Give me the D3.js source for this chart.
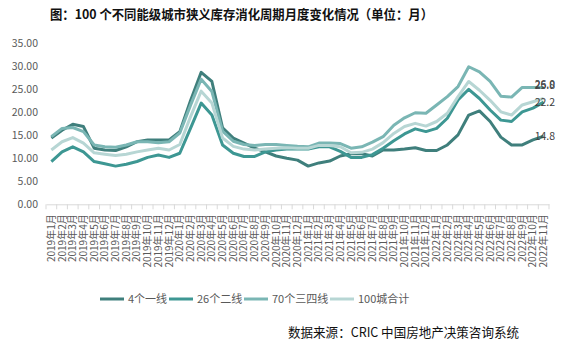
<!DOCTYPE html>
<html lang="zh">
<head>
<meta charset="UTF-8">
<script src="https://d3js.org/d3.v7.min.js"></script>
<style>
  body { margin: 0; background: #fff; }
  svg text { font-family: "Noto Sans CJK SC", sans-serif; }
</style>
</head>
<body>
<div id="chart"></div>
<script>
// months 2019-1 .. 2022-11
const months = [];
for (let yr = 2019; yr <= 2022; yr++) {
  for (let m = 1; m <= 12; m++) {
    if (yr === 2022 && m > 11) break;
    months.push(yr + "年" + m + "月");
  }
}

const tier1 = [14.4, 16.1, 17.4, 16.9, 12.2, 11.8, 11.7, 12.5, 13.6, 14.0, 14.0, 14.0,
  15.8, 22.5, 28.7, 26.7, 16.6, 14.4, 13.3, 12.2, 11.4, 10.5, 10.0, 9.6,
  8.3, 9.0, 9.4, 10.5, 11.0, 11.0, 10.5, 11.8, 11.8, 12.0, 12.3, 11.7,
  11.7, 12.9, 15.1, 19.4, 20.3, 18.0, 14.6, 12.9, 12.9, 14.0, 14.8];
const tier2 = [9.3, 11.4, 12.5, 11.4, 9.3, 8.8, 8.3, 8.7, 9.3, 10.2, 10.7, 10.2,
  11.1, 16.5, 22.0, 19.4, 12.9, 11.1, 10.4, 10.4, 11.4, 11.8, 12.0, 12.0,
  12.0, 12.5, 12.5, 11.5, 10.2, 10.2, 10.8, 12.2, 13.8, 15.3, 16.4, 15.8,
  16.5, 18.7, 22.7, 25.0, 23.0, 20.5, 18.3, 18.0, 20.1, 20.9, 22.2];
const tier34 = [14.7, 16.5, 16.7, 15.8, 12.9, 12.5, 12.4, 12.9, 13.6, 13.6, 13.4, 13.6,
  15.5, 21.5, 27.2, 24.5, 15.9, 13.7, 13.0, 12.8, 13.0, 13.0, 12.8, 12.6,
  12.5, 13.3, 13.3, 13.2, 12.2, 12.5, 13.5, 14.7, 17.2, 18.8, 19.9, 19.8,
  21.6, 23.4, 25.6, 29.9, 28.8, 26.7, 23.5, 23.3, 25.4, 25.4, 25.4];
const total100 = [11.8, 13.6, 14.5, 13.3, 11.2, 10.9, 10.6, 10.9, 11.4, 11.8, 12.2, 11.8,
  13.0, 19.0, 24.6, 22.0, 14.4, 12.6, 12.0, 11.8, 12.0, 12.2, 12.3, 12.2,
  12.2, 12.8, 12.8, 12.5, 11.2, 11.3, 12.0, 13.4, 15.4, 16.9, 17.6, 17.0,
  18.0, 19.8, 23.4, 26.7, 24.8, 22.6, 20.1, 19.4, 21.6, 22.3, 23.0];

const seriesNames = ["4个一线", "26个二线", "70个三四线", "100城合计"];
const seriesColors = ["#3f7f7c", "#3d9793", "#7ab6b4", "#b7d6d4"];
const seriesValues = [tier1, tier2, tier34, total100];
const endLabels = ["14.8", "22.2", "26.0", "25.8"];
const yTicks = [0, 5, 10, 15, 20, 25, 30, 35];

const W = 579, H = 351;
const svg = d3.select("#chart").append("svg")
  .attr("width", W).attr("height", H);

const x = d3.scaleBand().domain(months).range([46, 549]);
const y = d3.scaleLinear().domain([0, 35]).range([204.3, 43.3]);

// title
svg.append("text")
  .attr("x", 50).attr("y", 19)
  .attr("font-size", 13).attr("font-weight", "bold")
  .attr("fill", "#111")
  .attr("textLength", 383).attr("lengthAdjust", "spacingAndGlyphs")
  .text("图：100 个不同能级城市狭义库存消化周期月度变化情况（单位：月）");

// y axis
const yAxis = svg.append("g")
  .attr("transform", "translate(38,0)")
  .call(d3.axisLeft(y).tickValues(yTicks).tickSize(0).tickPadding(0).tickFormat(d3.format(".2f")));
yAxis.select(".domain").remove();
yAxis.selectAll("text")
  .attr("font-family", "Liberation Mono, monospace")
  .attr("font-size", 10.5).attr("fill", "#595959");

// x axis
const xAxis = svg.append("g")
  .attr("transform", "translate(0," + y(0) + ")")
  .call(d3.axisBottom(x).tickSize(0));
xAxis.select(".domain").attr("stroke", "#d9d9d9");
xAxis.selectAll("text")
  .attr("transform", "rotate(-90)")
  .attr("text-anchor", "end")
  .attr("x", -10).attr("y", 0).attr("dy", "0.35em")
  .attr("font-family", "Liberation Mono, Noto Sans CJK SC, monospace")
  .attr("font-size", 10).attr("fill", "#595959");
// boundary ticks
xAxis.selectAll(".bnd")
  .data(months.concat(["end"]))
  .enter().append("line")
  .attr("x1", d => d === "end" ? x.range()[1] : x(d))
  .attr("x2", d => d === "end" ? x.range()[1] : x(d))
  .attr("y1", 0).attr("y2", 5)
  .attr("stroke", "#d9d9d9");

// lines
const line = d3.line()
  .x((d, i) => x(months[i]) + x.bandwidth() / 2)
  .y(d => y(d));

svg.selectAll(".series")
  .data(seriesValues)
  .enter().append("path")
  .attr("d", d => line(d))
  .attr("fill", "none")
  .attr("stroke", (d, i) => seriesColors[i])
  .attr("stroke-width", 3)
  .attr("stroke-linejoin", "round");

// end labels
const lastX = x(months[months.length - 1]) + x.bandwidth() / 2;
svg.selectAll(".endlbl")
  .data(endLabels)
  .enter().append("text")
  .attr("x", lastX - 9)
  .attr("y", d => y(+d))
  .attr("dy", "0.35em")
  .attr("font-family", "Liberation Mono, monospace")
  .attr("font-size", 10.5).attr("fill", "#404040")
  .text(d => d);

// legend
const legendX = [100, 169, 244, 330];
const lg = svg.selectAll(".lg")
  .data(seriesNames)
  .enter().append("g")
  .attr("transform", (d, i) => "translate(" + legendX[i] + ",299)");
lg.append("line")
  .attr("x1", 0).attr("x2", 24).attr("y1", 0).attr("y2", 0)
  .attr("stroke", (d, i) => seriesColors[i]).attr("stroke-width", 3);
lg.append("text")
  .attr("x", 28).attr("y", 0).attr("dy", "0.35em")
  .attr("font-size", 11).attr("fill", "#595959")
  .text(d => d);

// source
svg.append("text")
  .attr("x", 288).attr("y", 337)
  .attr("font-size", 13).attr("fill", "#111")
  .attr("textLength", 231).attr("lengthAdjust", "spacingAndGlyphs")
  .text("数据来源：CRIC 中国房地产决策咨询系统");
</script>
</body>
</html>
